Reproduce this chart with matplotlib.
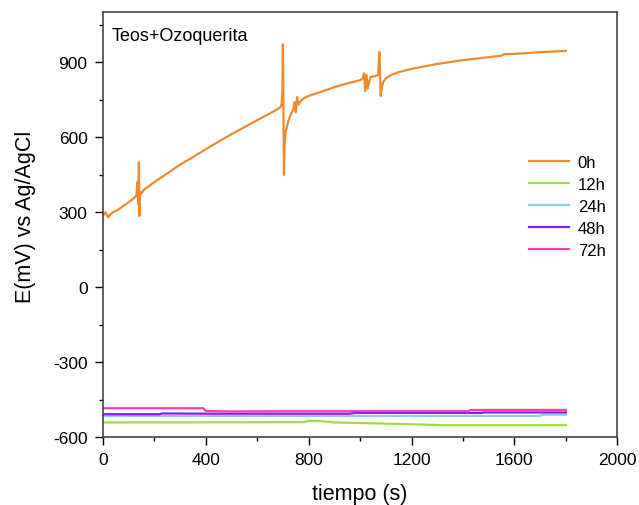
import numpy as np
import matplotlib.pyplot as plt
from matplotlib.ticker import MultipleLocator

plt.rcParams['font.family'] = ['Liberation Sans', 'DejaVu Sans']
plt.rcParams['axes.unicode_minus'] = False
plt.rcParams['axes.spines.top'] = True
plt.rcParams['axes.spines.right'] = True

# ==================== 数据 ====================
t_0h = [0, 10, 20, 30, 40, 60, 80, 100, 120, 130, 135, 138, 140, 142, 145, 150, 160,
        200, 250, 300, 350, 400, 450, 500, 550, 600, 650, 680, 690, 695, 698, 700,
        702, 704, 706, 710, 720, 730, 740, 745, 750, 755, 760, 770, 780, 800, 850,
        900, 950, 1000, 1010, 1015, 1020, 1025, 1030, 1040, 1060, 1070, 1075, 1078,
        1080, 1085, 1090, 1100, 1120, 1150, 1200, 1300, 1400, 1500, 1550, 1560,
        1600, 1700, 1800]
e_0h = [285, 300, 280, 292, 300, 310, 325, 340, 355, 365, 420, 330, 500, 285, 380,
        375, 390, 420, 455, 490, 520, 552, 582, 612, 640, 668, 695, 712, 720, 730,
        790, 972, 700, 449, 560, 620, 660, 690, 710, 740, 700, 760, 730, 745, 755,
        765, 782, 800, 815, 828, 835, 855, 785, 850, 795, 840, 845, 848, 940, 850,
        765, 800, 820, 835, 848, 860, 873, 893, 908, 920, 926, 932, 933, 940, 945]

t_12h = [0, 780, 800, 850, 900, 1200, 1320, 1800]
e_12h = [-541, -540, -535, -536, -541, -548, -552, -552]

t_24h = [0, 1700, 1710, 1800]
e_24h = [-515, -515, -510, -510]

t_48h = [0, 220, 230, 400, 960, 980, 1470, 1480, 1800]
e_48h = [-508, -508, -505, -506, -506, -503, -503, -501, -501]

t_72h = [0, 390, 400, 500, 700, 1420, 1430, 1800]
e_72h = [-484, -484, -495, -497, -496, -496, -491, -491]

series = [
    ('0h', t_0h, e_0h, '#F08A2C'),
    ('12h', t_12h, e_12h, '#9BE03F'),
    ('24h', t_24h, e_24h, '#8FCBFA'),
    ('48h', t_48h, e_48h, '#8A1EEB'),
    ('72h', t_72h, e_72h, '#FF3DA8'),
]

# ==================== 绘图 ====================
fig = plt.figure(figsize=(6.39, 5.06), dpi=100)
ax = fig.add_axes([0.161, 0.134, 0.805, 0.840])

for label, t, e, c in series:
    ax.plot(t, e, color=c, linewidth=1.6, label=label)

ax.set_xlim(0, 2000)
ax.set_ylim(-600, 1100)
ax.xaxis.set_major_locator(MultipleLocator(400))
ax.xaxis.set_minor_locator(MultipleLocator(200))
ax.set_yticks([-600, -300, 0, 300, 600, 900])
ax.yaxis.set_minor_locator(MultipleLocator(150))
ax.tick_params(which='major', direction='out', length=6, width=1, labelsize=12.5, pad=5)
ax.tick_params(which='minor', direction='out', length=3, width=1)
for side in ['left', 'bottom', 'top', 'right']:
    ax.spines[side].set_visible(True)
    ax.spines[side].set_color('#444444')
    ax.spines[side].set_linewidth(1.2)
    ax.spines[side].set_zorder(5)

ax.set_xlabel('tiempo (s)', fontsize=15.5, labelpad=11)
ax.set_ylabel('E(mV) vs Ag/AgCl', fontsize=15.5)
ax.yaxis.set_label_coords(-0.13, 0.52)
ax.text(0.017, 0.965, 'Teos+Ozoquerita', transform=ax.transAxes,
        fontsize=13, va='top', ha='left')

ax.legend(loc='upper left', bbox_to_anchor=(0.80, 0.70), frameon=False,
          fontsize=12, handlelength=2.4, labelspacing=0.42, handletextpad=0.5)

plt.savefig('out.png', dpi=100)
